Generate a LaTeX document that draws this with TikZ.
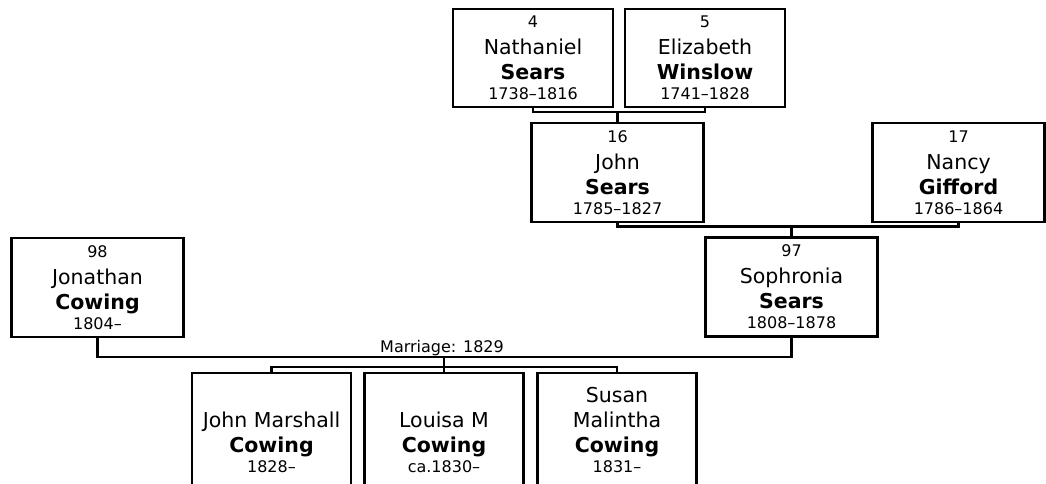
\documentclass[tikz,border=0pt]{standalone}
\usepackage{fontspec}
\setmainfont{DejaVu Sans}
\usetikzlibrary{positioning, calc}

\newcommand{\smalltxt}{\fontsize{16}{20}\selectfont}

\begin{document}
\begin{tikzpicture}[x=1pt, y=-1pt,
  person/.style={draw, line width=2.2pt, align=center, inner sep=0pt,
    font=\fontsize{20.5}{25}\selectfont, minimum width=160pt, minimum height=98pt},
  wide/.style={person, minimum width=172pt, minimum height=99pt},
  kid/.style={person, minimum width=159pt, minimum height=114pt},
  link/.style={line width=2.2pt}]

\useasboundingbox (0,0) rectangle (1046,483);
\clip (0,0) rectangle (1046,483);

% ancestors
\node[person] (P4) at (533,58) {{\smalltxt 4}\\[2pt] Nathaniel\\ \textbf{Sears}\\[-5pt] {\smalltxt 1738–1816}};
\node[person] (P5) at (705,58) {{\smalltxt 5}\\[2pt] Elizabeth\\ \textbf{Winslow}\\[-5pt] {\smalltxt 1741–1828}};
\node[wide] (P16) at (617.5,172.5) {{\smalltxt 16}\\[2pt] John\\ \textbf{Sears}\\[-5pt] {\smalltxt 1785–1827}};
\node[wide] (P17) at (958.5,172.5) {{\smalltxt 17}\\[2pt] Nancy\\ \textbf{Gifford}\\[-5pt] {\smalltxt 1786–1864}};
\node[wide] (P97) at (791.5,287) {{\smalltxt 97}\\[2pt] Sophronia\\ \textbf{Sears}\\[-5pt] {\smalltxt 1808–1878}};
\node[wide] (P98) at (97.5,287.5) {{\smalltxt 98}\\[2pt] Jonathan\\ \textbf{Cowing}\\[-5pt] {\smalltxt 1804–}};

% children
\node[kid] (C1) at (271.5,430) {\vphantom{S}\\ John Marshall\\ \textbf{Cowing}\\[-5pt] {\smalltxt 1828–}};
\node[kid] (C2) at (444,430) {\vphantom{S}\\ Louisa M\\ \textbf{Cowing}\\[-5pt] {\smalltxt ca.1830–}};
\node[kid] (C3) at (617,430) {Susan\\ Malintha\\ \textbf{Cowing}\\[-5pt] {\smalltxt 1831–}};

% connectors
\coordinate (u45) at ($(P16.north)+(0,-10)$);
\coordinate (u1617) at ($(P97.north)+(0,-10)$);
\coordinate (fam) at (444,357);
\coordinate (kids) at (444,367);

\draw[link] (P4.south) |- (u45) -| (P5.south);
\draw[link] (u45) -- (P16.north);
\draw[link] (P16.south) |- (u1617) -| (P17.south);
\draw[link] (u1617) -- (P97.north);
\draw[link] (P98.south) |- (fam) -| (P97.south);
\draw[link] (fam) -- (C2.north);
\draw[link] (C1.north) |- (kids) -| (C3.north);

\node[font=\smalltxt, anchor=base] (wed) at (442,352) {Marriage: 1829};
\end{tikzpicture}
\end{document}
